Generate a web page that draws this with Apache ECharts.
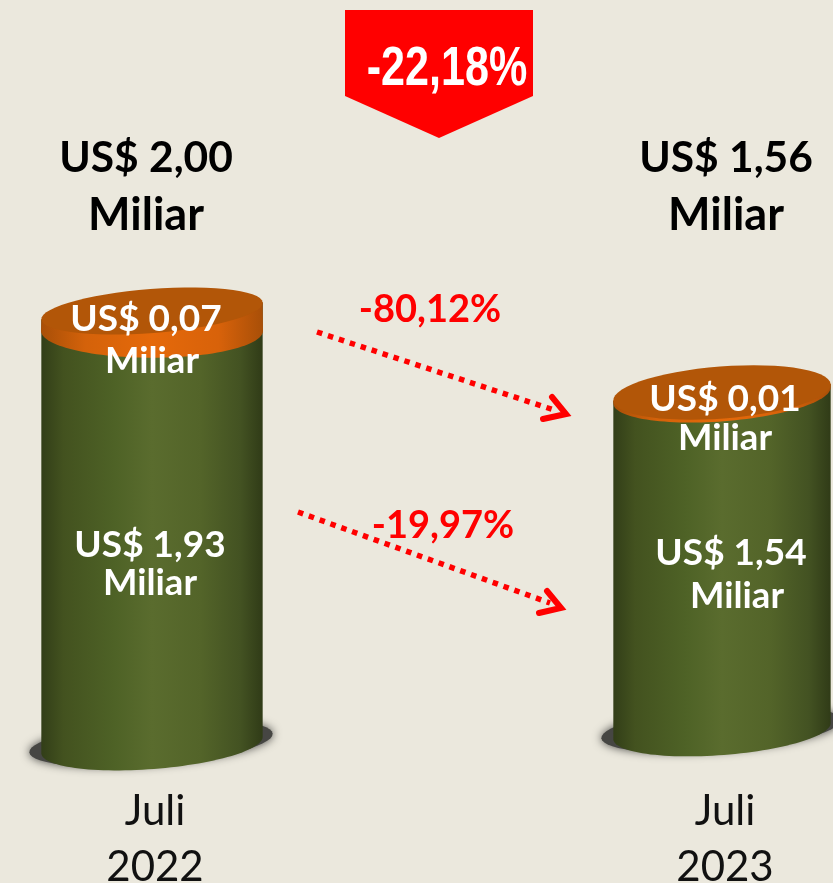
<!DOCTYPE html>
<html><head><meta charset="utf-8">
<style>html,body{margin:0;padding:0;background:#ebe8dd}#c{width:833px;height:883px}</style>
<script src="https://cdn.jsdelivr.net/npm/echarts@6/dist/echarts.min.js"></script>
</head><body><div id="c"></div>
<script>
const periods = ['Juli\n2022', 'Juli\n2023'];
const totals = [2.00, 1.56];
const lowerValues = [1.93, 1.54];
const upperValues = [0.07, 0.01];
const totalChange = '-22,18%';
const upperChange = '-80,12%';
const lowerChange = '-19,97%';
const unit = 'Miliar';

const money = v => 'US$ ' + v.toFixed(2).replace('.', ',');

// Drawing style, separate from the data
const baseShift = [0, -14];
const halfWidth = [111, 109];
const faceRy = [22, 26];
const bandRy = [27, 26];
const bandTilt = [0, 0.077];
const tilt = 0.077;
const capExaggeration = 1.3;

function arc(cx, cy, rx, ry, th, from, to) {
  const pts = [];
  for (let k = 0; k <= 60; k++) {
    const a = from + (to - from) * k / 60;
    const x = rx * Math.cos(a), y = ry * Math.sin(a);
    pts.push([cx + x * Math.cos(th) + y * Math.sin(th), cy - x * Math.sin(th) + y * Math.cos(th)]);
  }
  return pts;
}
function hGrad(stops) {
  return {type: 'linear', x: 0, y: 0, x2: 1, y2: 0,
    colorStops: stops.map(s => ({offset: s[0], color: s[1]}))};
}
const bodyGrad = hGrad([[0,'#323e18'],[0.1,'#43521f'],[0.33,'#4e6226'],[0.5,'#5a6c2e'],[0.72,'#536429'],[0.9,'#435222'],[1,'#303b17']]);
const bandGrad = hGrad([[0,'#a84f08'],[0.2,'#d4620a'],[0.5,'#e5690a'],[0.8,'#d8620a'],[1,'#a84f08']]);

function renderCylinder(params, api) {
  const i = api.value(0);
  const cx = api.coord([i, 0])[0];
  const base = api.coord([i, 0])[1] + baseShift[i];
  const top = api.coord([i, api.value(1)])[1] + baseShift[i];
  const band = api.size([0, api.value(2)])[1] * capExaggeration;
  const rx = halfWidth[i];
  const mid = top + band;
  const botArc = arc(cx, base, rx, 24, tilt, 0, Math.PI);
  const shadow = arc(cx - 1, base - 2, rx + 11, 22, tilt, 0, Math.PI * 2);
  const topLeft = arc(cx, top, rx, faceRy[i], tilt, Math.PI, Math.PI)[0];
  const topRight = arc(cx, top, rx, faceRy[i], tilt, 0, 0)[0];
  const bandArc = arc(cx, mid, rx, bandRy[i], bandTilt[i], 0, Math.PI);
  return {type: 'group', children: [
    {type: 'polygon', shape: {points: shadow},
      style: {fill: '#464643', shadowBlur: 10, shadowColor: '#464643'}},
    {type: 'polygon', shape: {points: [topLeft, topRight].concat(botArc)},
      style: {fill: bodyGrad}},
    {type: 'polygon', shape: {points: [topLeft, topRight].concat(bandArc)},
      style: {fill: bandGrad}},
    {type: 'polygon', shape: {points: arc(cx, top, rx, faceRy[i], tilt, 0, Math.PI * 2)},
      style: {fill: '#b25608'}}
  ]};
}

function txt(text, x, y, fill, font, shadow, scaleX) {
  const el = {type: 'text', x: x, y: y, z: 20, scaleX: scaleX || 1,
    style: {text: text, fill: fill, font: font, align: 'center', verticalAlign: 'middle'}};
  if (shadow) {
    el.style.shadowColor = shadow; el.style.shadowBlur = 3;
    el.style.shadowOffsetX = 1.5; el.style.shadowOffsetY = 1.5;
  }
  return el;
}
const BIG = 'bold 42.5px Lato';
const BIG2 = 'bold 45px Lato';
const WHITE = 'bold 37px Lato';
const WHITE2 = 'bold 36.5px Lato';
const PCT = 'bold 38px Lato';
const shade = 'rgba(40,40,20,0.75)';

function arrow(x1, y1, x2, y2, tip, b1, b2) {
  return [
    {type: 'line', z: 15, shape: {x1, y1, x2, y2},
      style: {stroke: '#ff0000', lineWidth: 5.5, lineDash: [5.5, 6], fill: null}},
    {type: 'polyline', z: 15, shape: {points: [b1, tip, b2]},
      style: {stroke: '#ff0000', lineWidth: 6, lineCap: 'round', lineJoin: 'miter', fill: null}}
  ];
}

const graphics = [
  {type: 'polygon', z: 10, shape: {points: [[345,10],[533,10],[533,96],[439,138],[345,96]]},
    style: {fill: '#ff0000'}},
  txt(totalChange, 447, 70, '#ffffff', 'bold 56px "Liberation Sans"', 'rgba(110,0,0,0.8)', 0.77),
  txt(money(totals[0]), 146, 158, '#000000', BIG),
  txt(unit, 146, 215, '#000000', BIG2),
  txt(money(totals[1]), 726, 158, '#000000', BIG),
  txt(unit, 726, 215, '#000000', BIG2),
  txt(money(upperValues[0]), 146, 319, '#ffffff', WHITE, shade),
  txt(unit, 152, 361, '#ffffff', WHITE2, shade),
  txt(money(lowerValues[0]), 150, 545, '#ffffff', WHITE, shade),
  txt(unit, 150, 583, '#ffffff', WHITE2, shade),
  txt(money(upperValues[1]), 725, 399, '#ffffff', WHITE, shade),
  txt(unit, 725, 438, '#ffffff', WHITE2, shade),
  txt(money(lowerValues[1]), 731, 553, '#ffffff', WHITE, shade),
  txt(unit, 737, 596, '#ffffff', WHITE2, shade),
  txt(upperChange, 430, 310, '#ff0000', PCT),
  txt(lowerChange, 443, 526, '#ff0000', PCT)
].concat(
  arrow(317, 332, 554, 410, [566, 414], [543, 419], [552, 397]),
  arrow(298, 512, 550, 603, [561, 608], [539, 613], [547, 591])
);

const chart = echarts.init(document.getElementById('c'), null, {renderer: 'canvas'});
chart.setOption({
  animation: false,
  backgroundColor: '#ebe8dd',
  grid: {left: 152, width: 570, top: 7.2, height: 737.8, outerBoundsMode: 'none', containLabel: false},
  xAxis: {type: 'category', boundaryGap: false, data: periods, axisLine: {show: false}, axisTick: {show: false},
    axisLabel: {color: '#111111', fontFamily: 'Lato', fontSize: 42, lineHeight: 56, margin: 38, padding: [0, 0, 0, 6], interval: 0, showMinLabel: true, showMaxLabel: true, hideOverlap: false}},
  yAxis: {type: 'value', min: 0, max: 3.4, show: false, splitLine: {show: false}},
  series: [{type: 'custom', clip: false, renderItem: renderCylinder,
    encode: {x: 0, y: 1},
    data: totals.map((t, i) => [i, t, upperValues[i], lowerValues[i]])}],
  graphic: graphics
});
</script></body></html>
